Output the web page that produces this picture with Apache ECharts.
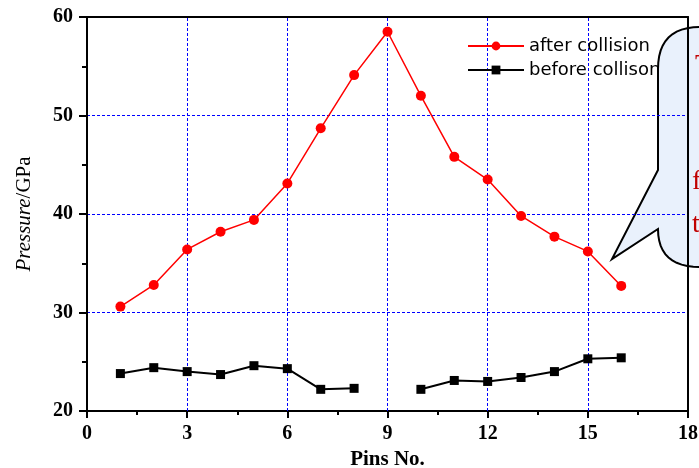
<!DOCTYPE html>
<html>
<head>
<meta charset="utf-8">
<script src="https://cdn.jsdelivr.net/npm/echarts@6/dist/echarts.min.js"></script>
<style>
html,body{margin:0;padding:0;background:#fff;}
#main{width:699px;height:468px;}
</style>
</head>
<body>
<div id="main"></div>
<script>
// pin numbers and pressures (GPa)
var pins = [1, 2, 3, 4, 5, 6, 7, 8, 9, 10, 11, 12, 13, 14, 15, 16];
var afterCollision = [30.6, 32.8, 36.4, 38.2, 39.4, 43.1, 48.7, 54.1, 58.5, 52.0, 45.8, 43.5, 39.8, 37.7, 36.2, 32.7];
var beforeCollision = [23.8, 24.4, 24.0, 23.7, 24.6, 24.3, 22.2, 22.3, null, 22.2, 23.1, 23.0, 23.4, 24.0, 25.3, 25.4];
var xGridAt = [3, 6, 9, 12, 15];
var seriesNames = ['after collision', 'before collison'];
var calloutText = ['T', 'f', 't'];

function pairs(vals){
  return pins.map(function(p, i){ return [p, vals[i]]; });
}

// quadratic curve points for the callout corners
function quad(p0, c, p1, out){
  for (var k = 1; k <= 12; k++) {
    var t = k / 12, u = 1 - t;
    out.push([u*u*p0[0] + 2*u*t*c[0] + t*t*p1[0], u*u*p0[1] + 2*u*t*c[1] + t*t*p1[1]]);
  }
}
var bubble = [[740, 27], [700, 27]];
quad([700, 27], [658, 27], [658, 69], bubble);
bubble.push([658, 170], [612, 259], [658, 229]);
quad([658, 229], [658, 267], [700, 267], bubble);
bubble.push([740, 267]);

var myChart = echarts.init(document.getElementById('main'));

option = {
  animation: false,
  backgroundColor: '#fff',
  grid: {left: 87, right: 11, top: 17, bottom: 57, outerBoundsMode: 'none', containLabel: false},
  legend: {
    orient: 'vertical',
    left: 462,
    top: 32,
    itemWidth: 56,
    itemHeight: 11,
    itemGap: 6,
    textStyle: {color: '#000', fontFamily: 'DejaVu Sans', fontSize: 18},
    data: seriesNames
  },
  xAxis: [{
    type: 'value',
    min: 0, max: 18, interval: 3,
    name: 'Pins No.',
    nameLocation: 'middle',
    nameGap: 33,
    nameTextStyle: {color: '#000', fontFamily: 'Liberation Serif', fontWeight: 'bold', fontSize: 21},
    axisLine: {onZero: false, lineStyle: {color: '#000', width: 2}},
    axisTick: {inside: false, length: 7, lineStyle: {color: '#000', width: 2}},
    minorTick: {show: true, splitNumber: 2, length: 4, lineStyle: {color: '#000', width: 2}},
    axisLabel: {margin: 13, color: '#000', fontFamily: 'Liberation Serif', fontWeight: 'bold', fontSize: 20},
    splitLine: {show: false}
  }, {
    type: 'value', position: 'top',
    min: 0, max: 18, interval: 18,
    axisLine: {show: true, onZero: false, lineStyle: {color: '#000', width: 2}},
    axisTick: {show: false}, axisLabel: {show: false}, splitLine: {show: false}
  }],
  yAxis: [{
    type: 'value',
    min: 20, max: 60, interval: 10,
    name: '{i|Pressure}{n|/GPa}',
    nameLocation: 'middle',
    nameGap: 52,
    nameTextStyle: {
      rich: {
        i: {fontFamily: 'Liberation Serif', fontStyle: 'italic', fontSize: 21, color: '#000'},
        n: {fontFamily: 'Liberation Serif', fontSize: 21, color: '#000'}
      }
    },
    axisLine: {show: true, onZero: false, lineStyle: {color: '#000', width: 2}},
    axisTick: {show: true, inside: false, length: 8, lineStyle: {color: '#000', width: 2}},
    minorTick: {show: true, splitNumber: 2, length: 5, lineStyle: {color: '#000', width: 2}},
    axisLabel: {margin: 14, color: '#000', fontFamily: 'Liberation Serif', fontWeight: 'bold', fontSize: 20},
    splitLine: {show: true, lineStyle: {color: '#0000ff', width: 1, type: [3, 2]}}
  }, {
    type: 'value', position: 'right',
    min: 20, max: 60, interval: 40,
    axisLine: {show: true, onZero: false, lineStyle: {color: '#000', width: 2}},
    axisTick: {show: false}, axisLabel: {show: false}, splitLine: {show: false}
  }],
  series: [{
    name: seriesNames[0],
    type: 'line',
    data: pairs(afterCollision),
    symbol: 'circle',
    symbolSize: 10,
    itemStyle: {color: '#ff0000'},
    lineStyle: {color: '#ff0000', width: 1.5},
    z: 3,
    markLine: {
      silent: true,
      symbol: 'none',
      label: {show: false},
      z: 1,
      lineStyle: {color: '#0000ff', width: 1, type: [3, 2], opacity: 1},
      emphasis: {disabled: true},
      data: xGridAt.map(function(v){ return {xAxis: v}; })
    }
  }, {
    name: seriesNames[1],
    type: 'line',
    data: pairs(beforeCollision),
    connectNulls: false,
    symbol: 'rect',
    symbolSize: 9,
    itemStyle: {color: '#000'},
    lineStyle: {color: '#000', width: 2},
    z: 3
  }],
  graphic: [{
    type: 'polygon',
    z: -10,
    shape: {points: bubble},
    style: {fill: '#e9f1fc', stroke: '#000', lineWidth: 2}
  }, {
    type: 'text', x: 695, y: 52, z: 100,
    style: {text: calloutText[0], fill: '#c00000', font: '28px "Liberation Serif"'}
  }, {
    type: 'text', x: 692, y: 168, z: 100,
    style: {text: calloutText[1], fill: '#c00000', font: '28px "Liberation Serif"'}
  }, {
    type: 'text', x: 692, y: 211, z: 100,
    style: {text: calloutText[2], fill: '#c00000', font: '28px "Liberation Serif"'}
  }]
};

myChart.setOption(option);
</script>
</body>
</html>
